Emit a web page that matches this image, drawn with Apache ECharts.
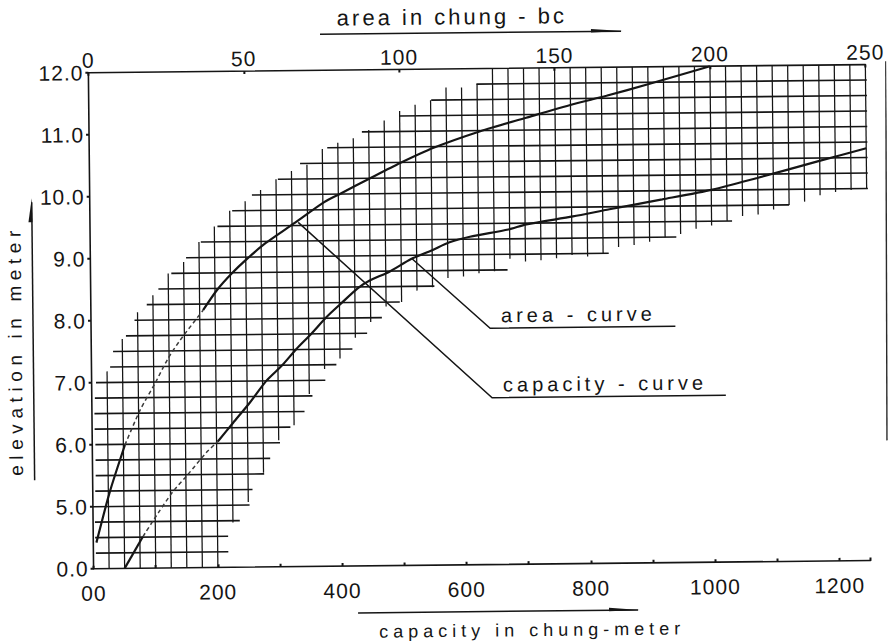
<!DOCTYPE html>
<html>
<head>
<meta charset="utf-8">
<title>Elevation – area – capacity curves</title>
<script src="https://cdn.jsdelivr.net/npm/echarts@6/dist/echarts.min.js"></script>
<style>
  html, body { margin: 0; padding: 0; background: #ffffff; overflow: hidden; }
  #chart { width: 889px; height: 641px; transform: rotate(-0.6deg); transform-origin: 50% 50%; }
</style>
</head>
<body>
<div id="chart"></div>
<script>
// ---- axis ticks and their printed labels ----
const elevTicks = [4, 5, 6, 7, 8, 9, 10, 11, 12];
const elevTickLabels = ['0.0', '5.0', '6.0', '7.0', '8.0', '9.0', '10.0', '11.0', '12.0'];
const capTicks = [0, 200, 400, 600, 800, 1000, 1200];
const capTickLabels = ['00', '200', '400', '600', '800', '1000', '1200'];
const areaTicks = [0, 50, 100, 150, 200, 250];
const areaTickLabels = ['0', '50', '100', '150', '200', '250'];

// ---- area curve (area in chung-bo, elevation in m) ----
const areaCurveArea = [1, 5.5, 10.5, 15.5, 20.4, 24.7, 28.6, 36.1, 40.6, 45.5, 50.4, 56.4, 65.5, 75.3, 80.8, 90.3, 100, 110.8, 125.9, 140.7, 155.8, 166.6, 180, 200];
const areaCurveElev = [4.42, 5.24, 5.99, 6.55, 6.98, 7.38, 7.67, 8.15, 8.47, 8.74, 8.97, 9.22, 9.53, 9.87, 10.01, 10.25, 10.49, 10.73, 10.99, 11.2, 11.41, 11.54, 11.72, 12.0];
// stretch of the area curve that is only pencilled in (point indices)
const areaDashedSpan = [2, 7];

// ---- capacity curve (capacity in chung-meter, elevation in m) ----
const capCurveCap = [50, 80, 105, 129, 153, 183, 202, 227, 254, 281, 306, 330, 354, 379, 403, 430, 449, 481, 516, 550, 577, 611, 673, 702, 777, 836, 921, 1002, 1074, 1173, 1250];
const capCurveElev = [4.0, 4.51, 4.89, 5.23, 5.5, 5.85, 6.03, 6.33, 6.65, 7.0, 7.24, 7.51, 7.75, 8.02, 8.24, 8.48, 8.6, 8.74, 8.94, 9.08, 9.2, 9.29, 9.4, 9.48, 9.6, 9.71, 9.86, 10.01, 10.19, 10.45, 10.65];
const capDashedSpan = [1, 6];

// ---- hatched band: horizontal strokes (elevation, from / to capacity) ----
const meshRowElev = [4.25, 4.5, 4.75, 5, 5.25, 5.5, 5.75, 6, 6.25, 6.5, 6.75, 7, 7.25, 7.5, 7.75, 8, 8.25, 8.5, 8.75, 9, 9.25, 9.5, 9.75, 10, 10.25, 10.5, 10.75, 11, 11.25, 11.5, 11.75];
const meshRowFrom = [4, 3, 3, 0, 4, 5, 5, 5, 4, 4, 5, 7, 30, 35, 56, 70, 90, 109, 130, 154, 178, 205, 229, 261, 303, 339, 383, 439, 499, 551, 624];
const meshRowTo = [217, 217, 236, 252, 257, 276, 286, 302, 319, 342, 355, 376, 394, 420, 444, 468, 497, 553, 671, 834, 943, 1033, 1125, 1252, 1252, 1252, 1252, 1252, 1252, 1252, 1252];

// ---- hatched band: vertical strokes (capacity, from / to elevation) ----
const meshColCap = [25, 50, 75, 100, 125, 150, 175, 200, 225, 250, 275, 300, 325, 350, 375, 400, 425, 450, 475, 500, 525, 550, 575, 600, 625, 650, 675, 700, 725, 750, 775, 800, 825, 850, 875, 900, 925, 950, 975, 1000, 1025, 1050, 1075, 1100, 1125, 1150, 1175, 1200, 1225, 1250];
const meshColFrom = [4, 4, 4, 4, 4, 4, 4, 4, 4.72, 5.05, 5.52, 6.04, 6.28, 6.78, 7.18, 7.35, 7.68, 7.93, 8.18, 8.25, 8.43, 8.48, 8.63, 8.65, 8.7, 8.73, 8.93, 8.88, 8.9, 8.93, 8.98, 8.95, 9.0, 9.1, 9.13, 9.18, 9.25, 9.3, 9.38, 9.43, 9.5, 9.58, 9.6, 9.68, 9.75, 9.8, 9.9, 9.95, 9.98, 10.0];
const meshColTo = [7.18, 7.7, 8.13, 8.4, 8.75, 8.93, 9.25, 9.5, 9.75, 9.9, 10.08, 10.25, 10.38, 10.48, 10.73, 10.83, 10.9, 11.03, 11.18, 11.33, 11.43, 11.5, 11.7, 11.7, 11.75, 12, 12, 12, 12, 12, 12, 12, 12, 12, 12, 12, 12, 12, 12, 12, 12, 12, 12, 12, 12, 12, 12, 12, 12, 12];

// ---- callouts: leader from a curve point, knee, end of underline ----
const noteLabels = ['area - curve', 'capacity - curve'];
const notePathCap = [[518, 642, 940], [335, 644, 1020]];
const notePathElev = [[8.94, 7.81, 7.81], [9.55, 6.69, 6.69]];

const INK = '#151515';
const FONT = 'Liberation Sans';

const chart = echarts.init(document.getElementById('chart'), null, { renderer: 'svg' });

function pick(ticks, labels) {
  return function (v) {
    const i = ticks.indexOf(Math.round(v * 1000) / 1000);
    return i >= 0 ? labels[i] : '';
  };
}

// split a curve into inked / pencilled / inked pieces sharing their end points
function curvePieces(name, xs, ys, span, xAxisIndex) {
  const pts = xs.map((x, i) => [x, ys[i]]);
  const solid = { color: INK, width: 2.2, type: 'solid' };
  const dashed = { color: '#3a3a3a', width: 1.5, type: [4, 3] };
  const parts = [
    [pts.slice(0, span[0] + 1), solid],
    [pts.slice(span[0], span[1] + 1), dashed],
    [pts.slice(span[1]), solid]
  ];
  return parts.map(function (p) {
    return {
      name: name, type: 'line', xAxisIndex: xAxisIndex, yAxisIndex: 0,
      data: p[0], showSymbol: false, smooth: 0.25, silent: true,
      lineStyle: p[1]
    };
  });
}

const axisLineStyle = { color: INK, width: 1.6 };

const option = {
  animation: false,
  backgroundColor: '#ffffff',
  grid: { left: 91, right: 21, top: 69, bottom: 76, outerBoundsMode: 'none' },
  xAxis: [
    {
      type: 'value', position: 'bottom', min: 0, max: 1250, interval: 200,
      axisLine: { show: true, onZero: false, lineStyle: axisLineStyle },
      axisTick: { show: true, inside: true, length: 3, lineStyle: { color: INK, width: 2 } },
      minorTick: { show: true, splitNumber: 2, length: 3, lineStyle: { color: INK, width: 2 } },
      splitLine: { show: false },
      axisLabel: {
        margin: 14, fontSize: 21, fontFamily: FONT, color: INK,
        showMinLabel: true, showMaxLabel: true,
        formatter: pick(capTicks, capTickLabels)
      }
    },
    {
      type: 'value', position: 'top', min: 0, max: 250, interval: 50,
      axisLine: { show: true, onZero: false, lineStyle: axisLineStyle },
      axisTick: { show: true, inside: true, length: 3, lineStyle: { color: INK, width: 2 } },
      splitLine: { show: false },
      axisLabel: {
        margin: 2, fontSize: 21, fontFamily: FONT, color: INK,
        showMinLabel: true, showMaxLabel: true,
        formatter: pick(areaTicks, areaTickLabels)
      }
    }
  ],
  yAxis: {
    type: 'value', min: 4, max: 12, interval: 1,
    axisLine: { show: true, onZero: false, lineStyle: axisLineStyle },
    axisTick: { show: true, inside: false, length: 3, lineStyle: { color: INK, width: 2 } },
    splitLine: { show: false },
    axisLabel: {
      margin: 5, fontSize: 21, fontFamily: FONT, color: INK,
      padding: [8, 0, 0, 0],
      showMinLabel: true, showMaxLabel: true,
      formatter: pick(elevTicks, elevTickLabels)
    }
  },
  graphic: [
    // top axis title with arrowed underline
    { type: 'text', x: 455, y: 17, style: { text: 'area in chung - bc', fontSize: 22, fontFamily: FONT, fill: INK, align: 'center', verticalAlign: 'middle' } },
    { type: 'line', shape: { x1: 323, y1: 33, x2: 624, y2: 33 }, style: { stroke: INK, lineWidth: 1.5 } },
    { type: 'polygon', shape: { points: [[594, 30.5], [626, 33], [594, 34]] }, style: { fill: INK } },
    // bottom axis title with arrowed underline
    { type: 'text', x: 529, y: 631, style: { text: 'capacity in chung-meter', fontSize: 18, fontFamily: FONT, fill: INK, align: 'center', verticalAlign: 'middle' } },
    { type: 'line', shape: { x1: 355, y1: 612, x2: 635, y2: 612 }, style: { stroke: INK, lineWidth: 1.5 } },
    { type: 'polygon', shape: { points: [[606, 609.5], [637, 612], [606, 613]] }, style: { fill: INK } },
    // vertical axis title with arrowed side line
    { type: 'text', x: 15, y: 346, rotation: Math.PI / 2, style: { text: 'elevation in meter', fontSize: 19, fontFamily: FONT, fill: INK, align: 'center', verticalAlign: 'middle' } },
    { type: 'line', shape: { x1: 33, y1: 198, x2: 33, y2: 476 }, style: { stroke: INK, lineWidth: 1.5 } },
    { type: 'polygon', shape: { points: [[33, 194], [29.5, 218], [33.5, 218]] }, style: { fill: INK } },
    // sheet edge
    { type: 'line', shape: { x1: 888.5, y1: 66, x2: 885.7, y2: 445 }, style: { stroke: '#2a2a2a', lineWidth: 1.4 } }
  ],
  series: [
    {
      name: 'mesh rows', type: 'custom', xAxisIndex: 0, yAxisIndex: 0, silent: true,
      encode: { x: [0, 1], y: 2 },
      data: meshRowElev.map((e, i) => [meshRowFrom[i], meshRowTo[i], e]),
      renderItem: function (params, api) {
        const a = api.coord([api.value(0), api.value(2)]);
        const b = api.coord([api.value(1), api.value(2)]);
        return { type: 'line', shape: { x1: a[0], y1: a[1], x2: b[0], y2: b[1] }, style: { stroke: INK, lineWidth: 1.6 } };
      }
    },
    {
      name: 'mesh columns', type: 'custom', xAxisIndex: 0, yAxisIndex: 0, silent: true,
      encode: { x: 0, y: [1, 2] },
      data: meshColCap.map((c, i) => [c, meshColFrom[i], meshColTo[i]]),
      renderItem: function (params, api) {
        const a = api.coord([api.value(0), api.value(1)]);
        const b = api.coord([api.value(0), api.value(2)]);
        return { type: 'line', shape: { x1: a[0], y1: a[1], x2: b[0], y2: b[1] }, style: { stroke: INK, lineWidth: 1.25 } };
      }
    }
  ]
  .concat(curvePieces('area-curve', areaCurveArea, areaCurveElev, areaDashedSpan, 1))
  .concat(curvePieces('capacity-curve', capCurveCap, capCurveElev, capDashedSpan, 0))
  .concat([
    {
      name: 'callouts', type: 'custom', xAxisIndex: 0, yAxisIndex: 0, silent: true,
      encode: { x: 0, y: 1 },
      data: noteLabels.map((t, i) => [notePathCap[i][1], notePathElev[i][1], i]),
      renderItem: function (params, api) {
        const k = api.value(2);
        const pts = notePathCap[k].map((c, j) => api.coord([c, notePathElev[k][j]]));
        return {
          type: 'group',
          children: [
            { type: 'polyline', shape: { points: pts }, style: { stroke: INK, lineWidth: 1.5, fill: null } },
            { type: 'text', x: pts[1][0] + 11, y: pts[1][1] - 3,
              style: { text: noteLabels[k], fontSize: 20, fontFamily: FONT, fill: INK, align: 'left', verticalAlign: 'bottom' } }
          ]
        };
      }
    }
  ])
};

chart.setOption(option);

// stencil-style lettering: open up the tracking per text size
const tracking = { '18px': 5, '19px': 5.6, '20px': 4, '21px': 1, '22px': 3 };
function applyTracking() {
  document.querySelectorAll('#chart svg text').forEach(function (t) {
    const fs = getComputedStyle(t).fontSize;
    if (tracking[fs] != null) t.style.letterSpacing = tracking[fs] + 'px';
  });
}
chart.on('finished', applyTracking);
applyTracking();
setTimeout(applyTracking, 50);
</script>
</body>
</html>
